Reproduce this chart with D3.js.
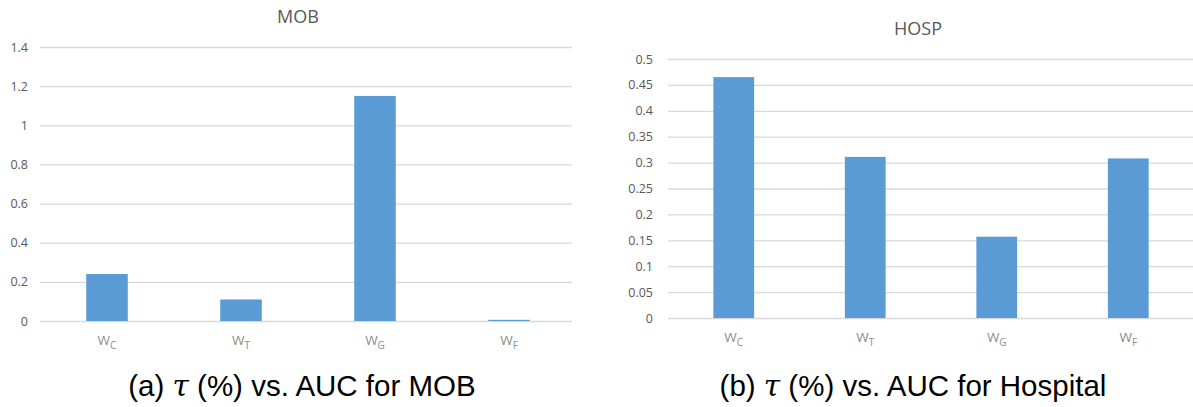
<!DOCTYPE html>
<html>
<meta charset='utf-8'>
<head>
<title>tau vs AUC</title>
<script src='https://d3js.org/d3.v7.min.js'></script>
<style>
body { margin: 0; background: #fff; }
</style>
</head>
<body>
<div id='my_dataviz'></div>
<script>
// data
var categories = ['C', 'T', 'G', 'F']
var mobValues = [0.24, 0.11, 1.15, 0.006]
var hospValues = [0.465, 0.311, 0.157, 0.308]
var mobTicks = [0, 0.2, 0.4, 0.6, 0.8, 1, 1.2, 1.4]
var hospTicks = [0, 0.05, 0.1, 0.15, 0.2, 0.25, 0.3, 0.35, 0.4, 0.45, 0.5]

var svg = d3.select('#my_dataviz')
  .append('svg')
    .attr('width', 1193)
    .attr('height', 407)

function drawChart(opts) {
  var x = d3.scaleBand()
    .domain(categories)
    .range([opts.left, opts.right])
    .paddingInner(0.69)
    .paddingOuter(0.345)
  var y = d3.scaleLinear()
    .domain([0, opts.ticks[opts.ticks.length - 1]])
    .range([opts.bottom, opts.top])

  var g = svg.append('g')

  // gridlines + y labels
  var yAxis = g.append('g')
    .attr('transform', 'translate(' + opts.left + ',0)')
    .call(d3.axisLeft(y)
      .tickValues(opts.ticks)
      .tickFormat(function(d) { return d3.format('')(+d.toFixed(2)) })
      .tickSize(-(opts.gridRight - opts.left))
      .tickPadding(opts.pad))
  yAxis.select('.domain').remove()
  yAxis.selectAll('line').attr('stroke', '#d9d9d9').attr('stroke-width', 1.3)
  yAxis.selectAll('text')
    .attr('fill', '#595959')
    .style('font-family', 'Open Sans, sans-serif')
    .style('font-size', '12.5px')

  // bars
  g.selectAll('rect')
    .data(opts.values)
    .enter()
    .append('rect')
      .attr('x', function(d, i) { return x(categories[i]) })
      .attr('y', function(d) { return y(d) })
      .attr('width', x.bandwidth())
      .attr('height', function(d) { return y(0) - y(d) })
      .attr('fill', '#5b9bd5')

  // x labels W_sub
  var lab = g.selectAll('.xlab')
    .data(categories)
    .enter()
    .append('text')
      .attr('class', 'xlab')
      .attr('x', function(d) { return x(d) + x.bandwidth() / 2 })
      .attr('y', opts.bottom + 24)
      .attr('text-anchor', 'middle')
      .attr('fill', '#8c8c8c')
      .style('font-family', 'Open Sans, sans-serif')
      .style('font-size', '13.5px')
  lab.append('tspan').text('W')
  lab.append('tspan').attr('dy', 4).style('font-size', '10px').text(function(d) { return d })

  // chart title
  g.append('text')
    .attr('x', opts.titleX)
    .attr('y', opts.titleY)
    .attr('text-anchor', 'middle')
    .attr('fill', '#595959')
    .style('font-family', 'Open Sans, sans-serif')
    .style('font-size', '18px')
    .text(opts.title)

  // caption
  var cap = g.append('text')
    .attr('x', opts.captionX)
    .attr('y', 396)
    .attr('text-anchor', 'middle')
    .attr('fill', '#000')
    .style('font-family', 'Liberation Sans, Arial, sans-serif')
    .style('font-size', '29.5px')
  cap.append('tspan').text(opts.captionPre)
  cap.append('tspan').style('font-family', 'DejaVu Serif, serif').style('font-style', 'italic').text('τ')
  cap.append('tspan').text(opts.captionPost)
}

drawChart({
  values: mobValues, ticks: mobTicks,
  left: 40, right: 576, gridRight: 572, top: 47, bottom: 321, pad: 12,
  title: 'MOB', titleX: 298, titleY: 23,
  captionX: 302, captionPre: '(a) ', captionPost: ' (%) vs. AUC for MOB'
})

drawChart({
  values: hospValues, ticks: hospTicks,
  left: 668, right: 1194, gridRight: 1193, top: 59, bottom: 318, pad: 15,
  title: 'HOSP', titleX: 918, titleY: 35,
  captionX: 913, captionPre: '(b) ', captionPost: ' (%) vs. AUC for Hospital'
})
</script>
</body>
</html>
